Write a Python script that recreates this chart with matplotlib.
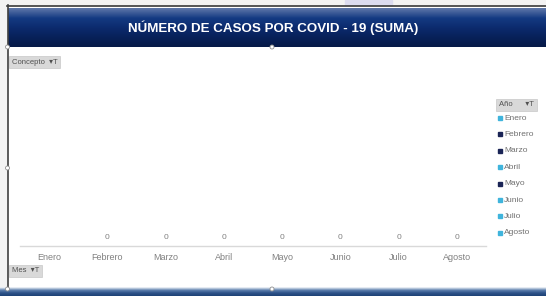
import numpy as np
import matplotlib.pyplot as plt
from matplotlib.patches import Rectangle, Circle

plt.rcParams['font.family'] = ['Liberation Sans', 'DejaVu Sans']

months = ['Enero', 'Febrero', 'Marzo', 'Abril', 'Mayo', 'Junio', 'Julio', 'Agosto']
cases = [np.nan, 0, 0, 0, 0, 0, 0, 0]
legend_colors = ['#3fb4dc', '#1a2456', '#1a2456', '#3fb4dc', '#1a2456', '#3fb4dc', '#3fb4dc', '#3fb4dc']
title = 'NÚMERO DE CASOS POR COVID - 19 (SUMA)'

W, H = 546, 296
fig = plt.figure(figsize=(W / 100, H / 100), dpi=100)
fig.patch.set_facecolor('white')

# chart axes (pixel layout: x 20..486, axis line at y=246)
ax = fig.add_axes([20 / W, (H - 246) / H, 466 / W, (246 - 80) / H])
x = np.arange(len(months))
ax.bar(x, cases, width=0.6, color='#3fb4dc')
for xi, v in zip(x, cases):
    if not np.isnan(v):
        ax.annotate(f'{v:.0f}', (xi, 0), xytext=(0, 3.5), textcoords='offset points',
                    ha='center', va='bottom', fontsize=6, color='#808080')
ax.set_xlim(-0.5, len(months) - 0.5)
ax.set_ylim(0, 1)
ax.set_xticks(x)
ax.set_xticklabels(months, fontsize=6.5, color='#808080')
ax.tick_params(axis='x', length=0, pad=5)
ax.set_yticks([])
for s in ['top', 'left', 'right']:
    ax.spines[s].set_visible(False)
ax.spines['bottom'].set_color('#d9d9d9')
ax.spines['bottom'].set_linewidth(1)

# overlay in pixel coordinates
ov = fig.add_axes([0, 0, 1, 1], zorder=-1)
ov.set_xlim(0, W)
ov.set_ylim(H, 0)
ov.axis('off')
top = fig.add_axes([0, 0, 1, 1], zorder=5)
top.set_xlim(0, W)
top.set_ylim(H, 0)
top.axis('off')

# background above frame
ov.add_patch(Rectangle((0, 0), W, 5, color='#f3f3f3'))
ov.add_patch(Rectangle((345, 0), 47, 5, color='#dcdcf0'))
ov.add_patch(Rectangle((0, 0), 7, H, color='#f3f3f3'))

# title banner with vertical gradient
grad = np.linspace(0, 1, 40).reshape(-1, 1)
cmap = plt.matplotlib.colors.LinearSegmentedColormap.from_list(
    'nv', ['#5c75a8', '#143a82', '#0c2b6e', '#08215a', '#061a48'])
ov.imshow(grad, extent=[8, W, 47, 8], aspect='auto', cmap=cmap, zorder=1)
ov.plot([7, W], [5.5, 5.5], color='#3a3a3a', lw=1.2, zorder=2)
ov.text(273, 28, title, ha='center', va='center', color='white',
        fontsize=9.6, fontweight='bold', zorder=3)

# left border and bottom strip
ov.plot([7.5, 7.5], [5, 289], color='#404040', lw=1.2, zorder=2)
grad2 = np.linspace(0, 1, 10).reshape(-1, 1)
cmap2 = plt.matplotlib.colors.LinearSegmentedColormap.from_list(
    'bs', ['#e8eef5', '#5d7fad', '#2f548a', '#1f4478'])
ov.imshow(grad2, extent=[0, W, H, 287], aspect='auto', cmap=cmap2, zorder=1)

# resize handles
for hx, hy in [(7.5, 47), (272, 47), (7.5, 168), (7.5, 289), (272, 289)]:
    top.add_patch(Circle((hx, hy), 2, facecolor='white', edgecolor='#909090', lw=0.6))

# field buttons
btn = dict(boxstyle='square,pad=0.35', facecolor='#d9d9d9', edgecolor='#c8c8c8', lw=0.5)
top.text(12, 62, 'Concepto  ▾T', fontsize=5.5, color='#505050', va='center', bbox=btn)
top.text(12, 271, 'Mes  ▾T', fontsize=5.5, color='#505050', va='center', bbox=btn)
top.text(499, 105, 'Año      ▾T', fontsize=5.5, color='#505050', va='center', bbox=btn)

# legend
for i, (name, col) in enumerate(zip(months, legend_colors)):
    yy = 118 + i * 16.4
    top.plot(500, yy, marker='s', ms=2.6, color=col, ls='none')
    top.text(504, yy, name, fontsize=6, color='#707070', va='center')

fig.savefig('out.png', dpi=100)
